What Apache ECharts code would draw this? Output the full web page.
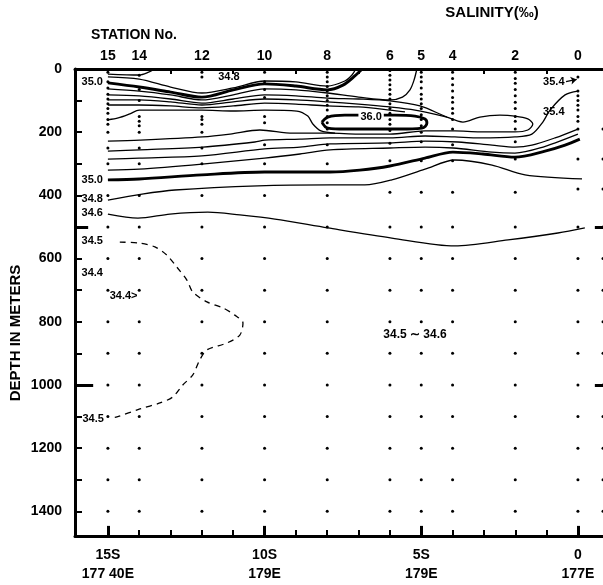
<!DOCTYPE html>
<html>
<head>
<meta charset="utf-8">
<script src="https://cdn.jsdelivr.net/npm/echarts@6/dist/echarts.min.js"></script>
<style>
  html, body { margin: 0; padding: 0; background: #fff; }
  #chart { width: 603px; height: 585px; }
</style>
</head>
<body>
<div id="chart"></div>
<script>
// Salinity section along the station line (station number vs depth in metres)

const FONT = '"Liberation Sans", Arial, sans-serif';
const INK = '#000';

// ---- axes ----
const stationTicks = [0, 1, 2, 3, 4, 5, 6, 7, 8, 9, 10, 11, 12, 13, 14, 15];
const stationLabels = [15, 14, 12, 10, 8, 6, 5, 4, 2, 0];
const unsampledStations = [13, 11, 9, 7, 3, 1];
const positionTicks = [0, 5, 10, 15];
const positionNames = { 15: ['15S', '177 40E'], 10: ['10S', '179E'], 5: ['5S', '179E'], 0: ['0', '177E'] };
const depthLabels = [0, 200, 400, 600, 800, 1000, 1200, 1400];
const depthTicks = [0, 100, 200, 300, 400, 500, 600, 700, 800, 900, 1000, 1100, 1200, 1300, 1400];
const depthMarks = [500, 1000];

// ---- bottle depths of each cast (upper layer; every cast continues below) ----
const castStations = [15, 14, 12, 10, 8, 6, 5, 4, 2, 0, -0.8];
const castUpper = {
  '15':   [10, 40, 60, 80, 95, 110, 125, 140, 160, 175, 200, 250, 300, 400],
  '14':   [20, 65, 100, 150, 165, 180, 200, 250, 300, 400],
  '12':   [10, 25, 150, 160, 175, 200, 250, 300, 400],
  '10':   [10, 40, 65, 90, 150, 170, 240, 300, 400],
  '8':    [10, 25, 40, 55, 70, 85, 100, 115, 130, 150, 170, 190, 240, 300, 400],
  '6':    [5, 20, 35, 50, 65, 80, 95, 110, 125, 140, 160, 175, 195, 235, 290, 390],
  '5':    [10, 25, 40, 60, 80, 95, 110, 125, 145, 160, 180, 200, 230, 290, 390],
  '4':    [10, 30, 50, 70, 90, 105, 125, 140, 160, 190, 240, 290, 390],
  '2':    [10, 30, 45, 65, 85, 105, 125, 150, 165, 190, 230, 285, 390],
  '0':    [25, 70, 85, 100, 115, 130, 150, 165, 190, 285, 380],
  '-0.8': [190, 285, 380]
};
const castDeep = [500, 600, 700, 800, 900, 1000, 1100, 1200, 1300, 1400];

// ---- isohalines: [station, depth] ----
const isoSurfaceA = [[15, 16], [14, 19], [13.7, 10], [13.5, 0]];
const iso348Upper = [[15, 25], [14, 32], [13, 57], [12, 76], [11, 60], [10, 38], [9, 41], [8, 54], [7.44, 38], [7.21, 19], [7.09, 0]];
const iso350Upper = [[15, 44], [14, 57], [13, 73], [12, 89], [11, 66], [10, 47], [9, 54], [8, 66], [7.5, 51], [7.12, 22], [6.89, 0]];
const iso352Upper = [[15, 63], [14, 70], [13, 82], [12, 98], [11, 82], [10, 63], [9, 66], [8, 76], [7, 89], [6, 98], [5.6, 89], [5.36, 66], [5.23, 35], [5.14, 0]];
const isoTongue = [[15, 82], [14, 85], [13, 95], [12, 108], [11, 95], [10, 82], [9, 85], [8, 92], [7, 95], [6, 101], [5.04, 117],
  [4.18, 152], [3.67, 168], [3.13, 152], [2.49, 146], [2.01, 149], [1.6, 158], [1.44, 174], [1.6, 193], [2.01, 199],
  [3.13, 199], [3.93, 196], [4.88, 196], [6, 206], [7.02, 206], [7.91, 203], [9.1, 203], [10.15, 193], [11.1, 206],
  [11.97, 215], [13.98, 225], [15, 228]];
const isoInner1 = [[15, 98], [14, 98], [13, 104], [12, 114], [11, 104], [10, 95], [9, 98], [8, 104], [7, 111], [6, 120], [5.2, 130], [4.18, 152]];
const isoInner2 = [[15, 114], [14, 114], [13, 117], [12, 123], [11, 117], [10, 108], [9, 111], [8, 117], [7, 120], [6, 130], [5.52, 136]];
const isoInner3 = [[15, 161], [14.67, 155], [14.3, 142], [14, 130], [13, 130], [12, 130], [11, 133], [10, 130], [8.97, 133],
  [8.62, 149], [8.46, 174], [8.2, 196], [7.75, 203]];
const iso360Core = [[8.17, 168], [7.98, 152], [7.44, 146], [6.64, 146], [5.84, 146], [5.2, 149], [4.88, 158], [4.82, 171],
  [4.98, 187], [5.68, 190], [6.64, 190], [7.44, 190], [7.98, 187], [8.17, 168]];
const iso354 = [[0, 70], [0.41, 82], [0.89, 130], [1.12, 168], [1.47, 206], [2.01, 215], [3.13, 218], [3.93, 215], [4.88, 212],
  [6, 218], [7.91, 218], [8.87, 222], [9.99, 225], [10.31, 231], [11.97, 247], [13.98, 256], [15, 260]];
const iso352Lower = [[15, 285], [14, 282], [12, 275], [10, 253], [8.87, 247], [7.91, 237], [6, 234], [4.88, 228], [3.83, 231],
  [2.74, 241], [2.01, 247], [1.47, 241], [0.73, 218], [0, 190]];
const iso351Lower = [[15, 320], [14, 317], [12, 301], [10, 282], [8.87, 269], [7.91, 256], [6, 250], [4.88, 247], [3.99, 250],
  [2.74, 263], [2.01, 266], [1.21, 250], [0, 206]];
const iso350Lower = [[15, 351], [14, 348], [12, 335], [10, 326], [7.91, 326], [6.96, 320], [6, 307], [4.88, 282], [3.99, 263],
  [3.03, 269], [2.01, 279], [1.05, 260], [0.41, 241], [-0.06, 222]];
const iso348Lower = [[15, 415], [13.91, 396], [12.86, 383], [10.21, 370], [7.91, 367], [6.8, 367], [5.94, 351], [4.88, 317],
  [3.93, 288], [2.74, 304], [1.69, 335], [-0.13, 348]];
const iso346 = [[15, 459], [14.04, 472], [13.02, 459], [11.81, 453], [10.79, 462], [9.67, 475], [7.98, 503], [5.94, 535],
  [3.93, 560], [2.23, 541], [0.64, 519], [-0.22, 503]];
const iso345 = [[14.62, 548], [13.98, 551], [13.5, 563], [13.12, 589], [12.8, 627], [12.48, 668], [12.29, 706], [11.84, 737],
  [11.33, 756], [10.95, 779], [10.69, 804], [10.79, 842], [11.2, 867], [11.84, 889], [12.07, 921], [12.29, 968], [12.61, 1000],
  [12.93, 1038], [13.34, 1057], [13.98, 1076], [14.71, 1101], [14.9, 1104]];

// ---- contour labels: [station, depth, text] ----
const contourLabels = [
  [15.5, 41, '35.0'], [11.14, 25, '34.8'], [0.77, 41, '35.4'], [0.77, 136, '35.4'],
  [15.5, 351, '35.0'], [15.5, 411, '34.8'], [15.5, 456, '34.6'], [15.5, 544, '34.5'],
  [15.5, 646, '34.4'], [14.5, 718, '34.4>'], [15.47, 1108, '34.5']
];
const coreLabel = [[6.6, 152, '36.0']];
const deepNote = [[5.2, 842, '34.5 ∼ 34.6']];

// ---- build chart ----
const xMin = -0.8, xMax = 16.05, yMin = 0, yMax = 1478;
const thin = 1.3, thick = 2.9;

function iso(data, width, extra) {
  return Object.assign({
    type: 'line', data: data, smooth: 0.3, symbol: 'none', silent: true,
    lineStyle: { color: INK, width: width }, z: 3
  }, extra || {});
}
function textSeries(data, size, extraLabel) {
  return {
    type: 'scatter', data: data, symbolSize: 1, silent: true, z: 6,
    itemStyle: { color: 'rgba(0,0,0,0)', opacity: 1 },
    label: Object.assign({
      show: true, position: 'inside', fontSize: size, fontFamily: FONT, fontWeight: 'bold', color: INK,
      opacity: 1, textBorderWidth: 0,
      formatter: function (p) { return p.data[2]; }
    }, extraLabel || {})
  };
}

const dots = [];
castStations.forEach(function (s) {
  castUpper[String(s)].concat(castDeep).forEach(function (d) { dots.push([s, d]); });
});

// longer tick marks: 500 m and 1000 m on both sides, whole-degree positions at the bottom
const tickSegments = [];
depthMarks.forEach(function (d) {
  const len = d === 1000 ? 0.58 : 0.42;
  tickSegments.push([{ coord: [xMax, d] }, { coord: [xMax - len, d] }]);
  tickSegments.push([{ coord: [xMin, d] }, { coord: [xMin + 0.26, d] }]);
});
positionTicks.forEach(function (s) {
  tickSegments.push([{ coord: [s, yMax] }, { coord: [s, yMax - 32] }]);
});

const axisText = { fontFamily: FONT, fontWeight: 'bold', color: INK, fontSize: 14 };

const option = {
  backgroundColor: '#fff',
  animation: false,
  grid: { left: 75, right: 0, top: 69, bottom: 49 },
  xAxis: [
    {
      type: 'value', position: 'bottom', min: xMin, max: xMax, inverse: true, splitLine: { show: false },
      axisLine: { show: true, onZero: false, lineStyle: { color: INK, width: 3 } },
      axisTick: { show: true, inside: true, length: 6, customValues: stationTicks, lineStyle: { color: INK, width: 2 } },
      axisLabel: Object.assign({
        show: true, margin: 10, lineHeight: 19, customValues: positionTicks,
        formatter: function (v) { const p = positionNames[Math.round(v)]; return p ? p.join('\n') : ''; }
      }, axisText)
    },
    {
      type: 'value', position: 'top', min: xMin, max: xMax, inverse: true, splitLine: { show: false },
      axisLine: { show: true, onZero: false, lineStyle: { color: INK, width: 3 } },
      axisTick: { show: true, inside: true, length: 5, customValues: unsampledStations, lineStyle: { color: INK, width: 2 } },
      axisLabel: Object.assign({ show: true, margin: 6, customValues: stationLabels,
        formatter: function (v) { return String(Math.round(v)); } }, axisText)
    }
  ],
  yAxis: [
    {
      type: 'value', position: 'left', min: yMin, max: yMax, inverse: true, splitLine: { show: false },
      axisLine: { show: true, onZero: false, lineStyle: { color: INK, width: 3 } },
      axisTick: { show: true, inside: true, length: 7, customValues: depthTicks, lineStyle: { color: INK, width: 2 } },
      axisLabel: Object.assign({ show: true, margin: 13, customValues: depthLabels,
        formatter: function (v) { return String(Math.round(v)); } }, axisText)
    }
  ],
  graphic: [
    { type: 'text', x: 134, y: 35, style: { text: 'STATION No.', fontSize: 14, align: 'center', verticalAlign: 'middle', fill: INK, fontFamily: FONT, fontWeight: 'bold' } },
    { type: 'text', x: 492, y: 13, style: { text: 'SALINITY(‰)', fontSize: 15, align: 'center', verticalAlign: 'middle', fill: INK, fontFamily: FONT, fontWeight: 'bold' } },
    { type: 'text', x: 16, y: 333, rotation: Math.PI / 2, style: { text: 'DEPTH IN METERS', fontSize: 15, align: 'center', verticalAlign: 'middle', fill: INK, fontFamily: FONT, fontWeight: 'bold' } }
  ],
  series: [
    { type: 'scatter', data: dots, symbolSize: 3, itemStyle: { color: INK, opacity: 1 }, silent: true, z: 2 },
    iso(isoSurfaceA, thin),
    iso(iso348Upper, thin),
    iso(iso350Upper, thick),
    iso(iso352Upper, thin),
    iso(isoTongue, thin),
    iso(isoInner1, thin),
    iso(isoInner2, thin),
    iso(isoInner3, thin),
    iso(iso360Core, thick, { smooth: 0.4 }),
    iso(iso354, thin),
    iso(iso352Lower, thin),
    iso(iso351Lower, thin),
    iso(iso350Lower, thick),
    iso(iso348Lower, thin),
    iso(iso346, thin),
    iso(iso345, 1.3, { lineStyle: { color: INK, width: 1.3, type: [6, 5] } }),
    {
      type: 'line', data: [], silent: true, z: 4,
      markLine: {
        silent: true, symbol: ['none', 'arrow'], symbolSize: 6, label: { show: false },
        lineStyle: { color: INK, width: 1.3, type: 'solid' },
        data: [[{ coord: [0.38, 40] }, { coord: [0.04, 33] }]]
      }
    },
    {
      type: 'line', data: [], silent: true, z: 4,
      markLine: {
        silent: true, symbol: ['none', 'none'], label: { show: false },
        lineStyle: { color: INK, width: 3, type: 'solid' },
        data: tickSegments
      }
    },
    textSeries(contourLabels, 11),
    textSeries(coreLabel, 11, { backgroundColor: '#fff', padding: [0, 2] }),
    textSeries(deepNote, 12)
  ]
};

const chart = echarts.init(document.getElementById('chart'), null, { renderer: 'canvas' });
chart.setOption(option);
</script>
</body>
</html>
